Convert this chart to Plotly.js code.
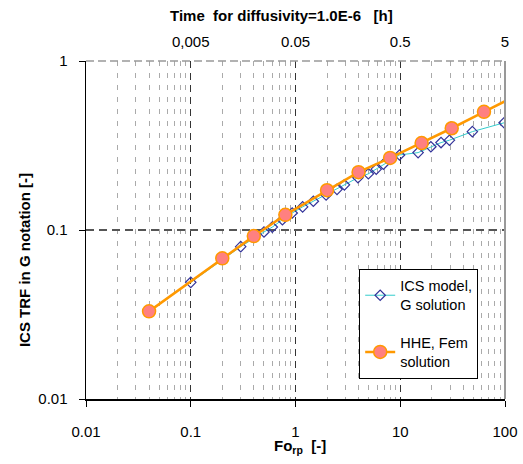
<!DOCTYPE html>
<html>
<head>
<meta charset="utf-8">
<script src="https://cdn.plot.ly/plotly-3.0.1.min.js"></script>
<style>html,body{margin:0;padding:0;background:#fff;}#chart{width:523px;height:464px;}</style>
</head>
<body>
<div id="chart"></div>
<script>
// ICS model, G solution
const icsFo = [0.1, 0.3, 0.5, 0.6, 0.75, 0.93, 1.17, 1.48, 1.96, 2.49, 2.93, 3.95, 4.96, 5.9, 6.9, 9.84, 14.8, 19.6, 24.5, 29.5, 48.8, 98];
const icsG  = [0.049, 0.0797, 0.0973, 0.104, 0.115, 0.126, 0.137, 0.148, 0.161, 0.174, 0.185, 0.204, 0.215, 0.229, 0.245, 0.278, 0.287, 0.311, 0.329, 0.340, 0.382, 0.431];
// HHE, Fem solution
const hheFo = [0.04, 0.2, 0.4, 0.8, 2, 4, 8, 16, 31, 63, 125];
const hheG  = [0.033, 0.068, 0.092, 0.123, 0.172, 0.22, 0.267, 0.327, 0.40, 0.50, 0.62];
// tick labels
const xTickVals = [0.01, 0.1, 1, 10, 100];
const xTickText = ['0.01', '0.1', '1', '10', '100'];
const yTickVals = [0.01, 0.1, 1];
const yTickText = ['0.01', '0.1', '1'];
const topTickVals = [0.1, 1, 10, 100];
const topTickText = ['0,005', '0.05', '0.5', '5'];

const FONT = 'Liberation Sans, Arial, sans-serif';
const traces = [
  {x: icsFo, y: icsG, type: 'scatter', mode: 'lines+markers', name: 'ICS model,<br>G solution',
   legendgroup: 'a',
   line: {color: '#33CCCC', width: 1},
   marker: {symbol: 'diamond-open', size: 8, color: '#333399', line: {color: '#333399', width: 1.2}}},
  {x: hheFo, y: hheG, type: 'scatter', mode: 'lines+markers', name: 'HHE, Fem<br>solution',
   legendgroup: 'b',
   line: {color: '#FF9900', width: 2.5},
   marker: {symbol: 'circle', size: 13, color: '#FF8080', line: {color: '#FF9900', width: 1.5}}},
  {x: [1], y: [0.1], xaxis: 'x2', type: 'scatter', mode: 'markers', showlegend: false,
   marker: {opacity: 0}, hoverinfo: 'skip'}
];

const layout = {
  width: 523, height: 464,
  margin: {l: 86, r: 18, t: 61, b: 65},
  paper_bgcolor: '#fff', plot_bgcolor: '#fff',
  font: {family: FONT, size: 15, color: '#000'},
  showlegend: true,
  legend: {x: 0.652, y: 0.385, xanchor: 'left', yanchor: 'top',
    bgcolor: '#fff', bordercolor: '#000', borderwidth: 1,
    font: {family: FONT, size: 14.5, color: '#000'},
    traceorder: 'grouped', tracegroupgap: 16},
  xaxis: {type: 'log', range: [-2, 2], tickmode: 'array', tickvals: xTickVals, ticktext: xTickText,
    ticks: 'outside', ticklen: 6, tickcolor: '#000', ticklabelstandoff: 12,
    showline: true, linecolor: '#000', linewidth: 1.5,
    showgrid: true, gridcolor: '#333', gridwidth: 1, griddash: '7px,5px',
    minor: {dtick: 'D1', showgrid: true, gridcolor: '#aaa', gridwidth: 1, griddash: '5px,7px', ticks: ''},
    zeroline: false, tickfont: {size: 15}},
  xaxis2: {type: 'log', range: [-2, 2], overlaying: 'x', side: 'top', anchor: 'y',
    tickmode: 'array', tickvals: topTickVals, ticktext: topTickText,
    ticks: 'outside', ticklen: 7, tickcolor: 'rgba(0,0,0,0)',
    showline: false, showgrid: false, zeroline: false, tickfont: {size: 15}},
  yaxis: {type: 'log', range: [-2, 0], tickmode: 'array', tickvals: yTickVals, ticktext: yTickText,
    ticks: 'outside', ticklen: 6, tickcolor: '#000', ticklabelstandoff: 8,
    showline: true, linecolor: '#000', linewidth: 1.5,
    showgrid: true, gridcolor: '#555', gridwidth: 1.3, griddash: '8px,5px',
    zeroline: false, tickfont: {size: 15}},
  shapes: [
    {type: 'line', xref: 'paper', yref: 'paper', x0: 1, x1: 1, y0: 0, y1: 1,
     line: {color: '#999', width: 2}},
    {type: 'line', xref: 'paper', yref: 'paper', x0: 0, x1: 1, y0: 1, y1: 1,
     line: {color: '#999', width: 1.5, dash: '8px,4px'}}
  ],
  annotations: [
    {text: '<b>Time\u00a0 for diffusivity=1.0E-6\u00a0\u00a0 [h]</b>', xref: 'paper', yref: 'paper',
     x: 0.4654, y: 1.136, xanchor: 'center', yanchor: 'middle', showarrow: false,
     font: {family: FONT, size: 15}},
    {text: '<b>ICS TRF in G notation [-]</b>', xref: 'paper', yref: 'paper',
     x: -0.148, y: 0.411, xanchor: 'center', yanchor: 'middle', textangle: -90, showarrow: false,
     font: {family: FONT, size: 15}},
    {text: '<b>Fo<sub>rp</sub>\u00a0 [-]</b>', xref: 'paper', yref: 'paper',
     x: 0.511, y: -0.142, xanchor: 'center', yanchor: 'middle', showarrow: false,
     font: {family: FONT, size: 15}}
  ]
};

Plotly.newPlot('chart', traces, layout, {displayModeBar: false, staticPlot: true});
</script>
</body>
</html>
